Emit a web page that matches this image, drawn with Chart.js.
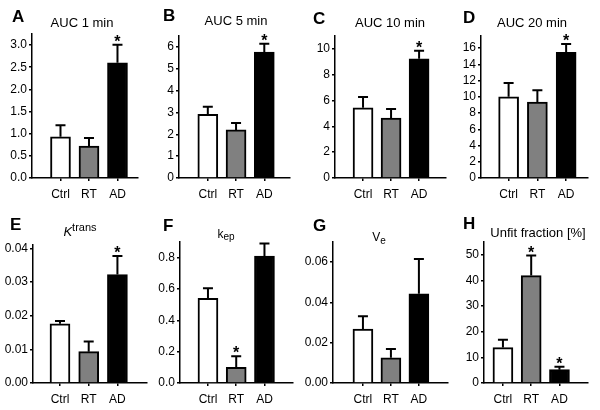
<!DOCTYPE html>
<html>
<head>
<meta charset="utf-8">
<script src="https://cdn.jsdelivr.net/npm/chart.js@4.4.1/dist/chart.umd.min.js"></script>
<style>
  body { margin: 0; background: #fff; }
  #figure { position: relative; width: 600px; height: 410px; background: #fff; }
  #figure canvas { position: absolute; }
</style>
</head>
<body>
<div id="figure"></div>
<script>
const FONT = '"Liberation Sans", Arial, sans-serif';

const groups = ['Ctrl', 'RT', 'AD'];
const barColors = ['#ffffff', '#808080', '#000000'];

// means and upper error bars
const auc1Mean = [0.93, 0.72, 2.60];
const auc1Err = [0.26, 0.18, 0.41];
const auc1Sig = [false, false, true];
const auc1Ticks = [0, 0.5, 1.0, 1.5, 2.0, 2.5, 3.0];

const auc5Mean = [2.92, 2.20, 5.76];
const auc5Err = [0.34, 0.32, 0.38];
const auc5Sig = [false, false, true];
const auc5Ticks = [0, 1, 2, 3, 4, 5, 6];

const auc10Mean = [5.44, 4.65, 9.23];
const auc10Err = [0.84, 0.70, 0.62];
const auc10Sig = [false, false, true];
const auc10Ticks = [0, 2, 4, 6, 8, 10];

const auc20Mean = [10.0, 9.37, 15.5];
const auc20Err = [1.70, 1.45, 1.00];
const auc20Sig = [false, false, true];
const auc20Ticks = [0, 2, 4, 6, 8, 10, 12, 14, 16];

const ktransMean = [0.0176, 0.0093, 0.0322];
const ktransErr = [0.0008, 0.0030, 0.0055];
const ktransSig = [false, false, true];
const ktransTicks = [0, 0.01, 0.02, 0.03, 0.04];

const kepMean = [0.54, 0.10, 0.81];
const kepErr = [0.065, 0.07, 0.08];
const kepSig = [false, true, false];
const kepTicks = [0, 0.2, 0.4, 0.6, 0.8];

const veMean = [0.0268, 0.0125, 0.0443];
const veErr = [0.0064, 0.0044, 0.0172];
const veSig = [false, false, false];
const veTicks = [0, 0.02, 0.04, 0.06];

const unfitMean = [13.8, 41.9, 5.2];
const unfitErr = [3.1, 7.8, 1.1];
const unfitSig = [false, true, true];
const unfitTicks = [0, 10, 20, 30, 40, 50];

const panels = [
    { letter: 'A', mean: auc1Mean, err: auc1Err, sig: auc1Sig, ticks: auc1Ticks, dec: 1, yMax: 3.25,
      title: [{ text: 'AUC 1 min', font: '13px', dy: 0 }], titleX: 82, titleY: 27, letterX: 12, letterY: 22,
      col: 0, row: 0, left: 32, right: 138, top: 34, xMin: -1.0, xMax: 2.72 },
    { letter: 'B', mean: auc5Mean, err: auc5Err, sig: auc5Sig, ticks: auc5Ticks, dec: 0, yMax: 6.5,
      title: [{ text: 'AUC 5 min', font: '13px', dy: 0 }], titleX: 86, titleY: 25, letterX: 13, letterY: 21,
      col: 1, row: 0, left: 29, right: 140, top: 36, xMin: -1.02, xMax: 2.91 },
    { letter: 'C', mean: auc10Mean, err: auc10Err, sig: auc10Sig, ticks: auc10Ticks, dec: 0, yMax: 11,
      title: [{ text: 'AUC 10 min', font: '13px', dy: 0 }], titleX: 90, titleY: 27, letterX: 13, letterY: 24,
      col: 2, row: 0, left: 35, right: 146, top: 36, xMin: -1.0, xMax: 2.96 },
    { letter: 'D', mean: auc20Mean, err: auc20Err, sig: auc20Sig, ticks: auc20Ticks, dec: 0, yMax: 17.5,
      title: [{ text: 'AUC 20 min', font: '13px', dy: 0 }], titleX: 82, titleY: 27, letterX: 13, letterY: 23,
      col: 3, row: 0, left: 31, right: 138, top: 36, xMin: -0.96, xMax: 2.76 },
    { letter: 'E', mean: ktransMean, err: ktransErr, sig: ktransSig, ticks: ktransTicks, dec: 2, yMax: 0.041,
      title: [{ text: 'K', font: 'italic 13px', dy: 0 }, { text: 'trans', font: '11px', dy: -5 }],
      titleX: 80, titleY: 31, letterX: 10, letterY: 25,
      col: 0, row: 1, left: 33, right: 147, top: 40, xMin: -0.94, xMax: 3.03 },
    { letter: 'F', mean: kepMean, err: kepErr, sig: kepSig, ticks: kepTicks, dec: 1, yMax: 0.9,
      title: [{ text: 'k', font: '12px', dy: 0 }, { text: 'ep', font: '10px', dy: 2 }],
      titleX: 76, titleY: 33, letterX: 13, letterY: 26,
      col: 1, row: 1, left: 30, right: 143, top: 37, xMin: -0.99, xMax: 3.01 },
    { letter: 'G', mean: veMean, err: veErr, sig: veSig, ticks: veTicks, dec: 2, yMax: 0.07,
      title: [{ text: 'V', font: '12px', dy: 0 }, { text: 'e', font: '10px', dy: 3 }],
      titleX: 79, titleY: 36, letterX: 13, letterY: 26,
      col: 2, row: 1, left: 33, right: 148, top: 37, xMin: -1.07, xMax: 3.04 },
    { letter: 'H', mean: unfitMean, err: unfitErr, sig: unfitSig, ticks: unfitTicks, dec: 0, yMax: 55,
      title: [{ text: 'Unfit fraction [%]', font: '13px', dy: 0 }], titleX: 88, titleY: 32, letterX: 13, letterY: 24,
      col: 3, row: 1, left: 34, right: 138, top: 37, xMin: -0.67, xMax: 3.01 }
];

// error bars, significance stars, panel letter and title
const panelDecor = {
    id: 'panelDecor',
    afterDatasetsDraw(chart, args, opts) {
        const p = opts.panel;
        const ctx = chart.ctx;
        const yScale = chart.scales.y;
        const bars = chart.getDatasetMeta(0).data;
        ctx.save();
        bars.forEach((bar, i) => {
            const top = yScale.getPixelForValue(p.mean[i] + p.err[i]);
            ctx.strokeStyle = '#000';
            ctx.lineWidth = 2;
            ctx.beginPath();
            ctx.moveTo(bar.x, bar.y);
            ctx.lineTo(bar.x, top);
            ctx.moveTo(bar.x - 5, top);
            ctx.lineTo(bar.x + 5, top);
            ctx.stroke();
            if (p.sig[i]) {
                ctx.fillStyle = '#000';
                ctx.font = 'bold 16px ' + FONT;
                ctx.textAlign = 'center';
                ctx.textBaseline = 'alphabetic';
                ctx.fillText('*', bar.x, top + 2);
            }
        });
        ctx.restore();
    },
    afterDraw(chart, args, opts) {
        const p = opts.panel;
        const ctx = chart.ctx;
        ctx.save();
        ctx.fillStyle = '#000';
        ctx.textBaseline = 'alphabetic';
        ctx.textAlign = 'left';
        ctx.font = 'bold 17px ' + FONT;
        ctx.fillText(p.letter, p.letterX, p.letterY);

        let total = 0;
        p.title.forEach(s => {
            ctx.font = s.font + ' ' + FONT;
            total += ctx.measureText(s.text).width;
        });
        let x = p.titleX - total / 2;
        p.title.forEach(s => {
            ctx.font = s.font + ' ' + FONT;
            ctx.fillText(s.text, x, p.titleY + s.dy);
            x += ctx.measureText(s.text).width;
        });
        ctx.restore();
    }
};

const figure = document.getElementById('figure');

panels.forEach(p => {
    const canvas = document.createElement('canvas');
    canvas.width = 150;
    canvas.height = 205;
    canvas.style.left = (p.col * 150) + 'px';
    canvas.style.top = (p.row * 205) + 'px';
    figure.appendChild(canvas);

    new Chart(canvas.getContext('2d'), {
        type: 'bar',
        data: {
            datasets: [{
                data: p.mean.map((v, i) => ({ x: i, y: v })),
                backgroundColor: barColors,
                borderColor: '#000',
                borderWidth: 2,
                barThickness: 20
            }]
        },
        plugins: [panelDecor],
        options: {
            responsive: false,
            animation: false,
            events: [],
            layout: {
                padding: { top: p.top, right: 150 - p.right, left: 0, bottom: 0 }
            },
            plugins: {
                legend: { display: false },
                tooltip: { enabled: false },
                panelDecor: { panel: p }
            },
            scales: {
                x: {
                    type: 'linear',
                    min: p.xMin,
                    max: p.xMax,
                    offset: false,
                    afterFit: scale => { scale.height = 205 - 178; },
                    afterBuildTicks: scale => {
                        scale.ticks = groups.map((g, i) => ({ value: i }));
                    },
                    ticks: {
                        callback: v => groups[v],
                        color: '#000',
                        font: { family: FONT, size: 12 },
                        padding: 6,
                        maxRotation: 0
                    },
                    grid: {
                        display: true,
                        offset: false,
                        drawOnChartArea: false,
                        drawTicks: true,
                        tickLength: 3,
                        color: '#000',
                        lineWidth: 1.5
                    },
                    border: { display: true, color: '#000', width: 1.5 }
                },
                y: {
                    type: 'linear',
                    min: 0,
                    max: p.yMax,
                    afterFit: scale => { scale.width = p.left; },
                    afterBuildTicks: scale => {
                        scale.ticks = p.ticks.map(v => ({ value: v }));
                    },
                    ticks: {
                        callback: v => v.toFixed(p.dec),
                        color: '#000',
                        font: { family: FONT, size: 12 },
                        padding: 2
                    },
                    grid: {
                        display: true,
                        drawOnChartArea: false,
                        drawTicks: true,
                        tickLength: 3,
                        color: '#000',
                        lineWidth: 1.5
                    },
                    border: { display: true, color: '#000', width: 1.5 }
                }
            }
        }
    });
});
</script>
</body>
</html>
